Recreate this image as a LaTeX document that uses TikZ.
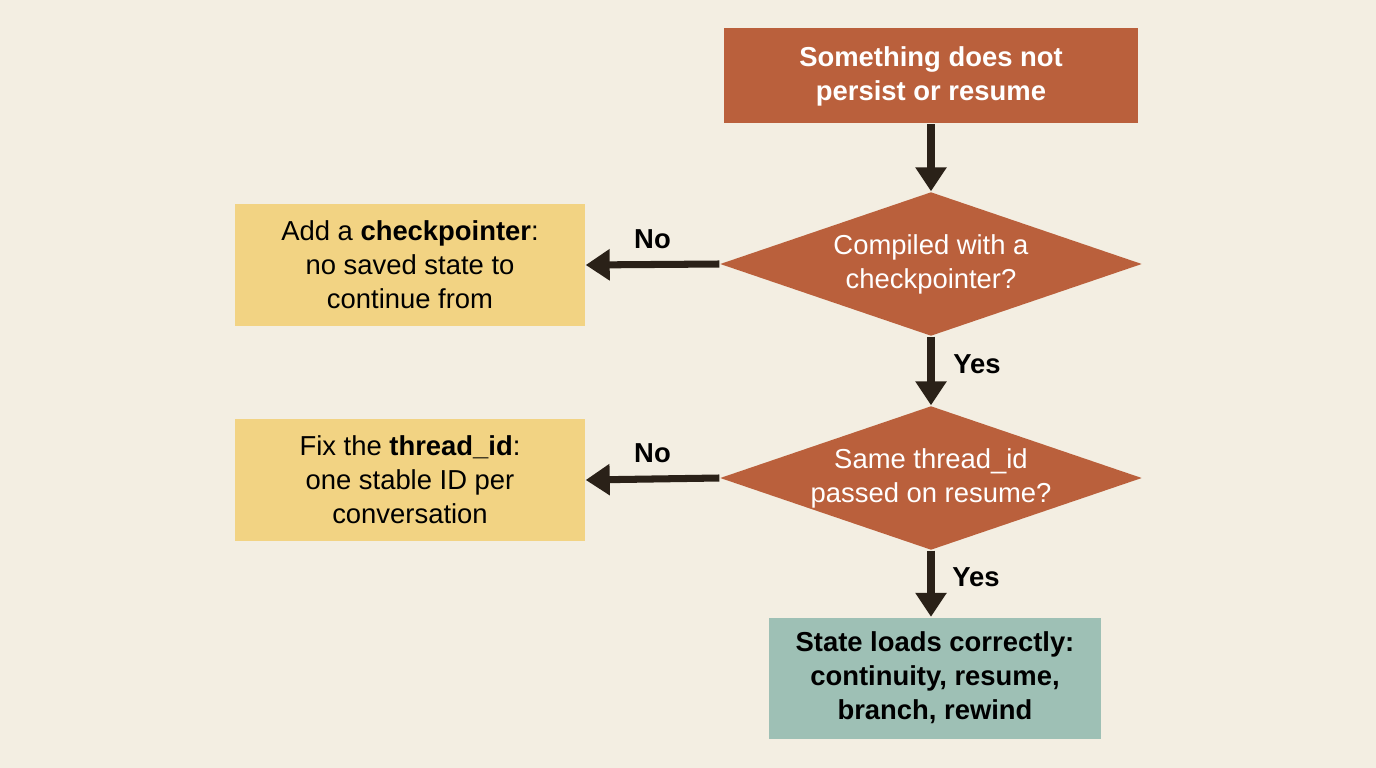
\documentclass[tikz,border=0pt]{standalone}
\usepackage{fontspec}
\setmainfont{Liberation Sans}
\usetikzlibrary{shapes.geometric,arrows.meta,positioning}
\definecolor{bgc}{HTML}{F3EEE2}
\definecolor{rust}{HTML}{BA603C}
\definecolor{sand}{HTML}{F2D383}
\definecolor{sage}{HTML}{9EC0B5}
\definecolor{ink}{HTML}{2A2118}
\newcommand{\flowfont}{\fontsize{7.8}{9.7}\selectfont}
\tikzset{
	startblock/.style = {fill=rust, text=white, rectangle, minimum height=0.95cm, minimum width=4.14cm, align=center, font=\flowfont\bfseries},
	decision/.style = {fill=rust, text=white, diamond, aspect=2.92, inner sep=0pt, minimum height=1.44cm, minimum width=4.22cm, align=center, font=\flowfont},
	fixblock/.style = {fill=sand, text=black, rectangle, minimum height=1.22cm, minimum width=3.5cm, align=center, font=\flowfont},
	endblock/.style = {fill=sage, text=black, rectangle, minimum height=1.21cm, minimum width=3.32cm, align=center, font=\flowfont\bfseries},
	flow/.style = {-{Triangle[length=0.24cm,width=0.3cm]}, line width=2pt, ink},
	lbl/.style = {font=\flowfont\bfseries, text=black}
}
\begin{document}
\begin{tikzpicture}
	\fill[bgc] (0,0) rectangle (13.76,-7.68);
	\node[startblock] (start) at (9.31,-0.76) {Something does not\\persist or resume};
	\node[decision] (ckpt) at (9.31,-2.64) {Compiled with a\\checkpointer?};
	\node[decision] (tid) at (9.31,-4.78) {Same thread\_id\\passed on resume?};
	\node[fixblock] (addck) at (4.10,-2.65) {Add a \textbf{checkpointer}:\\no saved state to\\continue from};
	\node[fixblock] (fixid) at (4.10,-4.80) {Fix the \textbf{thread\_id}:\\one stable ID per\\conversation};
	\node[endblock] (ok) at (9.35,-6.78) {State loads correctly:\\continuity, resume,\\branch, rewind};
	
	\draw[flow] (start) -- (ckpt);
	\draw[flow] (ckpt) -- node[lbl, right=2pt, yshift=0.07cm]{Yes} (tid);
	\draw[flow] (tid.south) -- (tid.south |- ok.north);
	\node[lbl] at (9.76,-5.77) {Yes};
	\draw[flow] (ckpt.west) -- node[lbl, above=3pt, yshift=-0.1cm]{No} (addck.east);
	\draw[flow] (tid.west) -- node[lbl, above=3pt, yshift=-0.1cm]{No} (fixid.east);
\end{tikzpicture}
\end{document}
